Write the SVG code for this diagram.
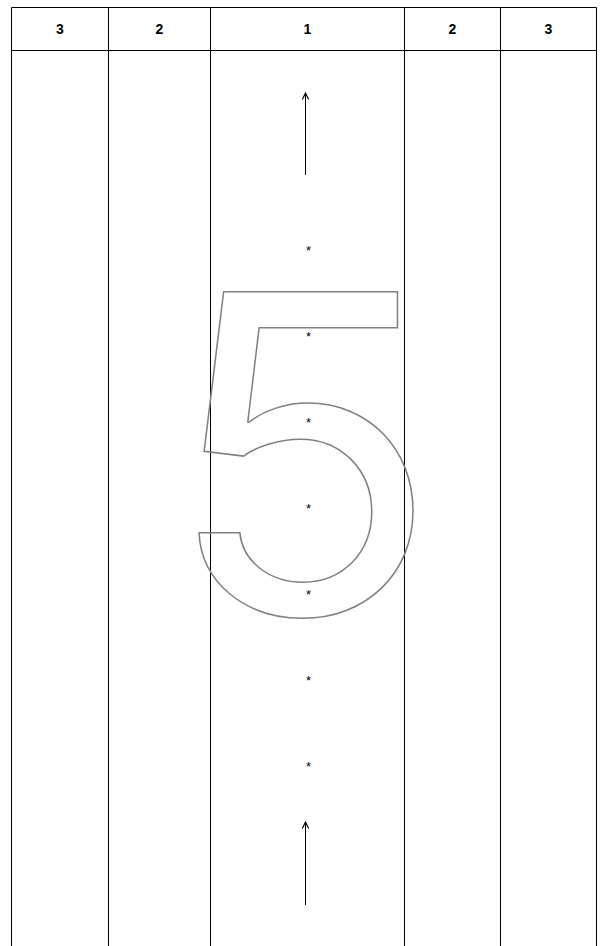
<svg xmlns="http://www.w3.org/2000/svg" width="607" height="946" viewBox="0 0 607 946">
<style>
.grid{stroke:#000;stroke-width:1;fill:none}
.hd{font-family:"Liberation Sans",Arial,sans-serif;font-size:14px;font-weight:bold;text-anchor:middle;fill:#000}
.ast{font-family:"Liberation Sans",Arial,sans-serif;font-size:13px;text-anchor:middle;fill:#000}
.big{font-family:Inter,"Liberation Sans",sans-serif;font-size:443px;fill:none;stroke:#808080;stroke-width:1.5}
.arr{stroke:#000;stroke-width:1;fill:none}
</style>
<defs>
<marker id="ah" viewBox="0 0 10 10" refX="9" refY="5" markerWidth="8" markerHeight="8" markerUnits="userSpaceOnUse" orient="auto">
<path d="M1,1 L9,5 L1,9 M9,5 L1,5" fill="none" stroke="#000" stroke-width="1.4"/>
</marker>
</defs>
<g id="table">
<path class="grid" d="M11.5,946 V7.5 H596.5 V946 M11.5,50.5 H596.5 M108.5,7.5 V946 M210.5,7.5 V946 M404.5,7.5 V946 M500.5,7.5 V946"/>
</g>
<g id="headers">
<text class="hd" x="60" y="34">3</text>
<text class="hd" x="159.5" y="34">2</text>
<text class="hd" x="307.5" y="34">1</text>
<text class="hd" x="452.5" y="34">2</text>
<text class="hd" x="548.5" y="34">3</text>
</g>
<g id="digit">
<text class="big" transform="translate(164,614) scale(1.025,1)" x="0" y="0">5</text>
</g>
<g id="stars">
<text class="ast" x="308.5" y="255">*</text>
<text class="ast" x="308.5" y="341">*</text>
<text class="ast" x="308.5" y="427">*</text>
<text class="ast" x="308.5" y="513">*</text>
<text class="ast" x="308.5" y="599">*</text>
<text class="ast" x="308.5" y="685">*</text>
<text class="ast" x="308.5" y="771">*</text>
</g>
<g id="connectors">
<line class="arr" x1="305.5" y1="175" x2="305.5" y2="93" marker-end="url(#ah)"/>
<line class="arr" x1="305.5" y1="905" x2="305.5" y2="822" marker-end="url(#ah)"/>
</g>
</svg>
